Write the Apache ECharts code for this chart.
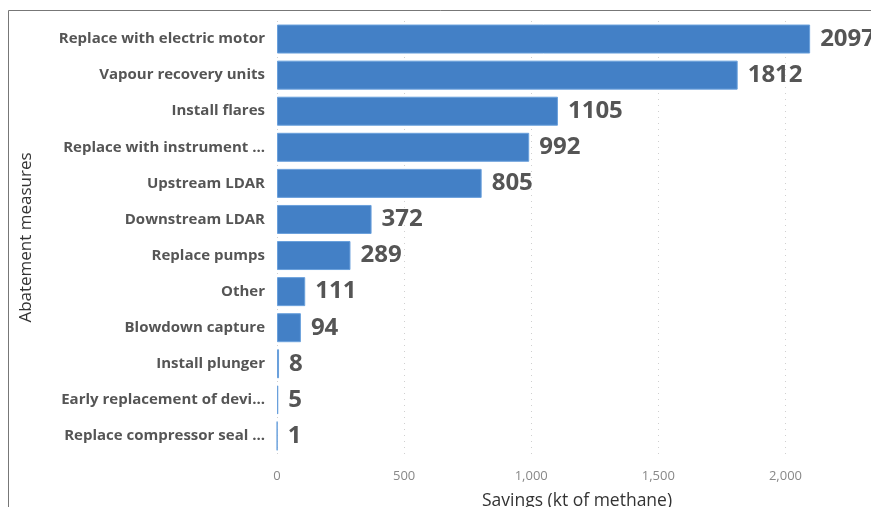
<!DOCTYPE html>
<html>
<head>
<meta charset="utf-8">
<script src="https://cdn.jsdelivr.net/npm/echarts@6/dist/echarts.min.js"></script>
<style>
  html, body { margin: 0; padding: 0; background: #fff; }
  #chart { width: 871px; height: 507px; }
</style>
</head>
<body>
<div id="chart"></div>
<script>
// 数据: 从上到下
const measures = [
    'Replace with electric motor',
    'Vapour recovery units',
    'Install flares',
    'Replace with instrument ...',
    'Upstream LDAR',
    'Downstream LDAR',
    'Replace pumps',
    'Other',
    'Blowdown capture',
    'Install plunger',
    'Early replacement of devi...',
    'Replace compressor seal ...'
];
const savings = [2097, 1812, 1105, 992, 805, 372, 289, 111, 94, 8, 5, 1];
const xRange = [0, 2360];   // 右侧被截断, 2,500 不可见

const chart = echarts.init(document.getElementById('chart'));

const option = {
    backgroundColor: '#fff',
    animation: false,
    grid: {
        left: 277, width: 600, top: 21, bottom: 53,
        containLabel: false, outerBoundsMode: 'none'
    },
    xAxis: {
        type: 'value',
        min: xRange[0],
        max: xRange[1],
        interval: 500,
        name: 'Savings (kt of methane)',
        nameLocation: 'middle',
        nameGap: 38,
        nameTextStyle: { color: '#333', fontSize: 17.5, fontFamily: 'Open Sans' },
        axisLine: { show: false },
        axisTick: { show: false },
        axisLabel: {
            color: '#888', fontSize: 13, fontFamily: 'Open Sans', margin: 16,
            showMaxLabel: false,
            formatter: v => v.toLocaleString('en-US')
        },
        splitLine: { lineStyle: { color: '#d0d0d0', type: [1, 5], width: 1 } }
    },
    yAxis: {
        type: 'category',
        data: measures,
        inverse: true,
        name: 'Abatement measures',
        nameLocation: 'middle',
        nameRotate: 90,
        nameGap: 242,
        nameTextStyle: { color: '#333', fontSize: 17, fontFamily: 'Open Sans' },
        axisLine: { show: false },
        axisTick: { show: false },
        axisLabel: {
            color: '#555', fontSize: 15, fontWeight: 'bold', fontFamily: 'Open Sans', margin: 12
        },
        splitLine: { show: false }
    },
    series: [{
        type: 'bar',
        data: savings,
        barWidth: 29,
        itemStyle: { color: '#4380c6', borderColor: '#6aa0dc', borderWidth: 1 },
        label: {
            show: true, position: 'right', distance: 10,
            color: '#555', fontSize: 24, fontWeight: 'bold', fontFamily: 'Open Sans'
        }
    }],
    graphic: [{
        type: 'rect',
        shape: { x: 8.5, y: 10.5, width: 900, height: 600 },
        style: { fill: 'none', stroke: '#777', lineWidth: 1 },
        silent: true
    }]
};
chart.setOption(option);
</script>
</body>
</html>
